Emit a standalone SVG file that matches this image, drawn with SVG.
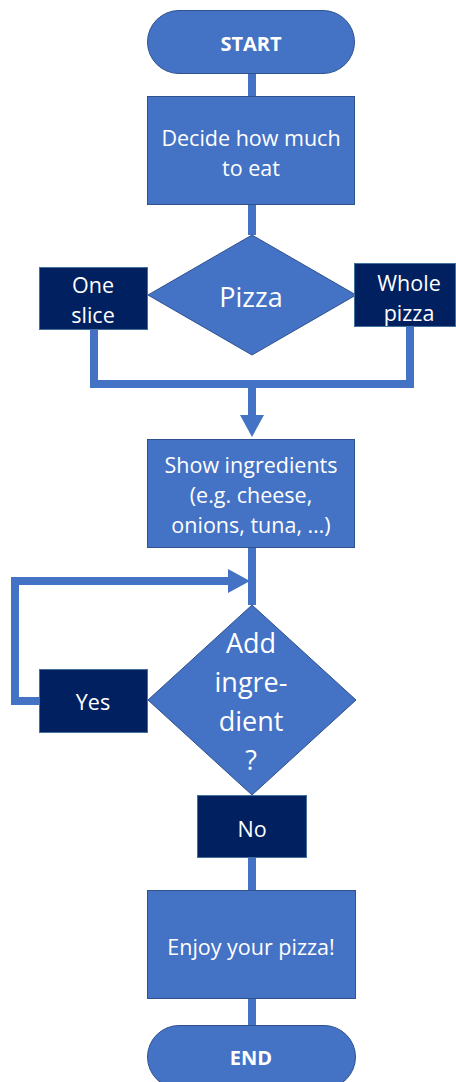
<svg xmlns="http://www.w3.org/2000/svg" width="456" height="1082" viewBox="0 0 456 1082">
<style>
.blue{fill:#4472C4;stroke:#2F528F;stroke-width:1}
.dark{fill:#002060;stroke:#41719C;stroke-width:1}
.t{font-family:"Open Sans","Liberation Sans",sans-serif;fill:#fff;text-anchor:middle;dominant-baseline:central}
.b{font-size:21.5px}
.bold{font-size:20px;font-weight:bold}
.big{font-size:27px}
.c{fill:none;stroke:#4472C4;stroke-width:8;stroke-linejoin:miter}
</style>
<defs>
<marker id="arr" markerUnits="userSpaceOnUse" viewBox="0 0 22 24" refX="0" refY="12" markerWidth="22" markerHeight="24" orient="auto">
<path d="M0,0 L22,12 L0,24 z" fill="#4472C4"/>
</marker>
</defs>
<g id="connectors">
<path class="c" d="M252,73 V96"/>
<path class="c" d="M252,205 V235"/>
<path class="c" d="M94,330 V384 H256"/>
<path class="c" d="M410,327 V384 H248"/>
<path class="c" d="M252,384 V415" marker-end="url(#arr)"/>
<path class="c" d="M252,548 V605"/>
<path class="c" d="M39,701 H15 V581 H228" marker-end="url(#arr)"/>
<path class="c" d="M252,858 V890"/>
<path class="c" d="M252,999 V1025"/>
</g>
<g id="start">
<rect class="blue" x="147.5" y="10.5" width="207" height="63" rx="31.5"/>
<text class="t bold" x="251" y="43">START</text>
</g>
<g id="decide">
<rect class="blue" x="147.5" y="96.5" width="207" height="108"/>
<text class="t b" x="251" y="137">Decide how much</text>
<text class="t b" x="251" y="167">to eat</text>
</g>
<g id="pizza">
<polygon class="blue" points="252,235 356,295 252,355 148,295"/>
<text class="t big" x="251" y="296">Pizza</text>
</g>
<g id="oneslice">
<rect class="dark" x="39.5" y="267.5" width="108" height="62"/>
<text class="t b" x="93" y="284">One</text>
<text class="t b" x="93" y="314">slice</text>
</g>
<g id="wholepizza">
<rect class="dark" x="354.5" y="263.5" width="101" height="63"/>
<text class="t b" x="409" y="282">Whole</text>
<text class="t b" x="409" y="312">pizza</text>
</g>
<g id="show">
<rect class="blue" x="147.5" y="439.5" width="207" height="108"/>
<text class="t b" x="251" y="464">Show ingredients</text>
<text class="t b" x="251" y="494">(e.g. cheese,</text>
<text class="t b" x="251" y="524">onions, tuna, …)</text>
</g>
<g id="add">
<polygon class="blue" points="252,605 356,700 252,795 148,700"/>
<text class="t big" x="251" y="642">Add</text>
<text class="t big" x="251" y="681">ingre-</text>
<text class="t big" x="251" y="720">dient</text>
<text class="t big" x="251" y="759">?</text>
</g>
<g id="yes">
<rect class="dark" x="39.5" y="669.5" width="108" height="63"/>
<text class="t b" x="93" y="701">Yes</text>
</g>
<g id="no">
<rect class="dark" x="197.5" y="795.5" width="109" height="62"/>
<text class="t b" x="252" y="828">No</text>
</g>
<g id="enjoy">
<rect class="blue" x="147.5" y="890.5" width="208" height="108"/>
<text class="t b" x="251" y="946">Enjoy your pizza!</text>
</g>
<g id="end">
<rect class="blue" x="147.5" y="1025.5" width="208" height="63" rx="31.5"/>
<text class="t bold" x="251" y="1057">END</text>
</g>
</svg>
